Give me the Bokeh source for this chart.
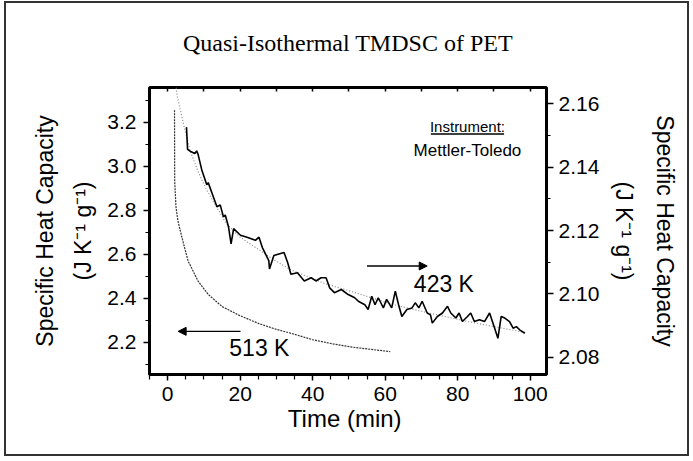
from bokeh.plotting import figure
from bokeh.models import (Range1d, LinearAxis, FixedTicker, Label, Arrow, NormalHead,
                          PrintfTickFormatter)
from bokeh.embed import file_html
from bokeh.resources import INLINE

# ---- data ----
# 423 K measurement (right axis)
t_423 = [5.2, 5.5, 6.1, 7.5, 8.0, 8.4, 9.4, 10.8, 11.2, 12.2,
         13.6, 14.5, 15.4, 15.9, 16.8, 17.5, 18.2, 20.1, 21.9, 24.2,
         25.2, 26.1, 27.9, 28.1, 29.3, 30.7, 32.1, 33.1, 34.0, 35.8,
         37.7, 39.6, 40.9, 42.3, 43.7, 44.7, 46.0, 47.9, 49.8, 51.6,
         52.6, 54.4, 55.3, 56.3, 57.2, 58.1, 59.5, 60.4, 61.8, 62.8,
         63.7, 64.6, 66.0, 67.4, 68.3, 69.3, 70.2, 71.6, 72.5, 73.0,
         74.4, 75.8, 77.2, 78.1, 79.5, 80.4, 81.3, 82.7, 83.6, 84.6,
         86.0, 87.4, 88.8, 90.2, 91.1, 92.0, 93.0, 94.3, 95.3, 96.2,
         97.1, 98.5]
cp_423 = [2.1526, 2.1456, 2.1451, 2.1443, 2.1451, 2.1440, 2.1392, 2.1344, 2.1351, 2.1319,
          2.1275, 2.1281, 2.1243, 2.1249, 2.1211, 2.1158, 2.1206, 2.1185, 2.1179, 2.1169,
          2.1179, 2.1147, 2.1105, 2.1079, 2.1121, 2.1126, 2.1131, 2.1099, 2.1062, 2.1067,
          2.1041, 2.1051, 2.1041, 2.1051, 2.1051, 2.1019, 2.1004, 2.1014, 2.0998, 2.0988,
          2.0977, 2.0966, 2.0951, 2.0993, 2.0966, 2.0988, 2.0956, 2.0983, 2.0956, 2.1009,
          2.0966, 2.0929, 2.0951, 2.0956, 2.0972, 2.0956, 2.0977, 2.0940, 2.0934, 2.0908,
          2.0929, 2.0940, 2.0961, 2.0940, 2.0924, 2.0940, 2.0913, 2.0929, 2.0940, 2.0913,
          2.0919, 2.0913, 2.0940, 2.0892, 2.0860, 2.0929, 2.0924, 2.0913, 2.0892, 2.0897,
          2.0887, 2.0876]

# 423 K smooth fit (right axis)
t_423_fit = [2.3, 2.6, 4.3, 6.1, 8.4, 10.8, 16.3, 20.1, 29.3, 34.0, 43.3, 52.6, 62.0,
             72.0, 82.0, 90.0, 99.0]
cp_423_fit = [2.1660, 2.1626, 2.1540, 2.1455, 2.1386, 2.1327, 2.1220, 2.1178, 2.1108,
              2.1076, 2.1033, 2.1001, 2.0967, 2.0940, 2.0915, 2.0897, 2.0878]

# 513 K measurement (left axis)
t_513 = [1.9, 1.95, 2.3, 2.8, 3.7, 4.65, 5.65, 8.4, 11.25, 15.0, 19.6, 25.2, 29.8,
         34.5, 40.0, 45.6, 51.1, 56.7, 61.4]
cp_513 = [3.254, 2.931, 2.815, 2.754, 2.692, 2.631, 2.569, 2.477, 2.416, 2.362, 2.323,
          2.284, 2.259, 2.238, 2.211, 2.192, 2.177, 2.166, 2.157]

x_ticks = [0, 20, 40, 60, 80, 100]
x_minor = [-5, 5, 10, 15, 25, 30, 35, 45, 50, 55, 65, 70, 75, 85, 90, 95]
top_ticks = [0, 10, 20, 30, 40, 50, 60, 70, 80, 90, 100]
left_ticks = [2.2, 2.4, 2.6, 2.8, 3.0, 3.2]
left_minor = [2.1, 2.3, 2.5, 2.7, 2.9, 3.1, 3.3]
right_ticks = [2.08, 2.10, 2.12, 2.14, 2.16]
right_minor = [2.09, 2.11, 2.13, 2.15]

TITLE = "Quasi-Isothermal TMDSC of PET"
FONT = "Liberation Sans"
UNIT = "(J K\u207b\u00b9 g\u207b\u00b9)"

p = figure(width=681, height=451, output_backend="svg", toolbar_location=None,
           title=None,
           x_range=Range1d(-5, 104.5), y_range=Range1d(2.053, 3.357),
           min_border_left=143, min_border_right=145, min_border_top=84,
           min_border_bottom=84, background_fill_color="white",
           border_fill_color="white")
p.styles = {"border": "2px solid #333", "box-sizing": "content-box",
            "margin-left": "4px", "margin-top": "1px"}
p.xgrid.visible = False
p.ygrid.visible = False
p.outline_line_color = "black"
p.outline_line_width = 3

p.extra_y_ranges = {"right": Range1d(2.0746, 2.1651)}


def style_axis(ax, tin=0, tout=6, mout=4):
    ax.axis_line_color = None
    ax.major_tick_line_color = "black"
    ax.minor_tick_line_color = "black"
    ax.major_tick_line_width = 1.5
    ax.minor_tick_line_width = 1.2
    ax.major_tick_in = tin
    ax.major_tick_out = tout
    ax.minor_tick_in = 0
    ax.minor_tick_out = mout
    ax.major_label_text_font = FONT
    ax.major_label_text_font_size = "21px"
    ax.major_label_text_color = "black"
    ax.axis_label_text_font = FONT
    ax.axis_label_text_font_size = "23px"
    ax.axis_label_text_font_style = "normal"
    ax.axis_label_text_color = "black"


def label_axis(side, text, standoff, range_name=None):
    kw = {"y_range_name": range_name} if range_name else {}
    ax = LinearAxis(ticker=FixedTicker(ticks=[], minor_ticks=[]), **kw)
    style_axis(ax, tout=0, mout=0)
    ax.major_label_text_font_size = "1px"
    ax.major_label_text_color = None
    ax.major_label_standoff = 0
    ax.axis_label = text
    ax.axis_label_standoff = standoff
    p.add_layout(ax, side)


xa = p.xaxis[0]
xa.ticker = FixedTicker(ticks=x_ticks, minor_ticks=x_minor)
xa.formatter = PrintfTickFormatter(format="%d")
style_axis(xa, tout=6, mout=5)
xa.major_label_standoff = 6
xa.axis_label = "Time  (min)"
xa.axis_label_text_font_size = "24px"
xa.axis_label_standoff = 1

ya = p.yaxis[0]
ya.ticker = FixedTicker(ticks=left_ticks, minor_ticks=left_minor)
ya.formatter = PrintfTickFormatter(format="%.1f")
style_axis(ya, tout=6, mout=4)
ya.major_label_standoff = 7
ya.axis_label = UNIT
ya.axis_label_standoff = 8
label_axis("left", "Specific Heat Capacity", 10)

ra = LinearAxis(y_range_name="right",
                ticker=FixedTicker(ticks=right_ticks, minor_ticks=right_minor),
                formatter=PrintfTickFormatter(format="%.2f"))
style_axis(ra, tout=7, mout=4)
ra.major_label_standoff = 5
ra.axis_label = UNIT
ra.axis_label_standoff = 9
p.add_layout(ra, "right")
label_axis("right", "Specific Heat Capacity", 11, "right")

# top edge: inward ticks, no tick labels; the chart title sits above it
ta = LinearAxis(ticker=FixedTicker(ticks=top_ticks, minor_ticks=[]))
style_axis(ta, tin=4, tout=0, mout=0)
ta.major_label_text_font_size = "1px"
ta.major_label_text_color = None
ta.major_label_standoff = 0
ta.axis_label = TITLE
ta.axis_label_text_font = "Liberation Serif"
ta.axis_label_text_font_size = "24px"
ta.axis_label_standoff = 32
p.add_layout(ta, "above")

# ---- curves ----
p.line(t_513, cp_513, line_color="#333333", line_width=1.2, line_dash="2 1")
p.line(t_423_fit, cp_423_fit, y_range_name="right", line_color="#888888",
       line_width=1.2, line_dash="1 2")
p.line(t_423, cp_423, y_range_name="right", line_color="black", line_width=1.6)

# ---- annotations ----
head = dict(size=8, fill_color="black", line_color="black")
p.add_layout(Arrow(end=NormalHead(**head), x_start=55.0, y_start=2.546,
                   x_end=71.6, y_end=2.546, line_width=1.3, line_color="black"))
p.add_layout(Arrow(end=NormalHead(**head), x_start=20.1, y_start=2.249,
                   x_end=2.9, y_end=2.249, line_width=1.3, line_color="black"))
p.add_layout(Arrow(end=None, x_start=72.6, y_start=3.146, x_end=92.8, y_end=3.146,
                   line_width=1.5, line_color="black"))


def data_label(x, y, text, size="22px"):
    p.add_layout(Label(x=x, y=y, text=text, text_font=FONT, text_font_size=size,
                       text_align="center", text_baseline="middle", text_color="black"))


data_label(76.2, 2.462, "423 K", "23px")
data_label(25.3, 2.172, "513 K", "23px")
data_label(82.7, 3.181, "Instrument:", "15px")
data_label(82.7, 3.072, "Mettler-Toledo", "17px")

open("out.html", "w").write(file_html(p, INLINE))
